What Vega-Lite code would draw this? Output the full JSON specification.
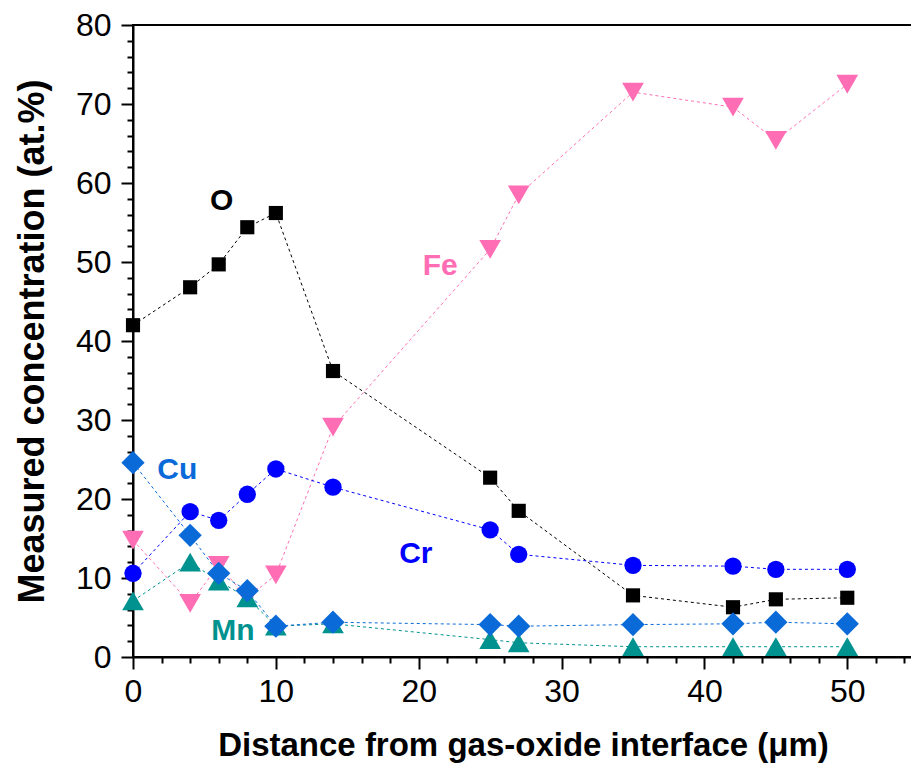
{
  "$schema": "https://vega.github.io/schema/vega-lite/v6.json",
  "autosize": "none",
  "padding": {"left": 133, "top": 25, "right": 0, "bottom": 108},
  "width": 780,
  "height": 632,
  "config": {
    "view": {"stroke": "black", "strokeWidth": 2},
    "font": "Liberation Sans"
  },
  "datasets": {
    "pts": [
      {"el": "O", "x": 0, "y": 42.0}, {"el": "O", "x": 4, "y": 46.8}, {"el": "O", "x": 6, "y": 49.7}, {"el": "O", "x": 8, "y": 54.4}, {"el": "O", "x": 10, "y": 56.2}, {"el": "O", "x": 14, "y": 36.2}, {"el": "O", "x": 25, "y": 22.7}, {"el": "O", "x": 27, "y": 18.5}, {"el": "O", "x": 35, "y": 7.8}, {"el": "O", "x": 42, "y": 6.3}, {"el": "O", "x": 45, "y": 7.3}, {"el": "O", "x": 50, "y": 7.5},
      {"el": "Fe", "x": 0, "y": 14.8}, {"el": "Fe", "x": 4, "y": 6.8}, {"el": "Fe", "x": 6, "y": 11.6}, {"el": "Fe", "x": 8, "y": 7.5}, {"el": "Fe", "x": 10, "y": 10.4}, {"el": "Fe", "x": 14, "y": 29.1}, {"el": "Fe", "x": 25, "y": 51.6}, {"el": "Fe", "x": 27, "y": 58.5}, {"el": "Fe", "x": 35, "y": 71.5}, {"el": "Fe", "x": 42, "y": 69.6}, {"el": "Fe", "x": 45, "y": 65.4}, {"el": "Fe", "x": 50, "y": 72.5},
      {"el": "Cr", "x": 0, "y": 10.6}, {"el": "Cr", "x": 4, "y": 18.4}, {"el": "Cr", "x": 6, "y": 17.3}, {"el": "Cr", "x": 8, "y": 20.6}, {"el": "Cr", "x": 10, "y": 23.8}, {"el": "Cr", "x": 14, "y": 21.5}, {"el": "Cr", "x": 25, "y": 16.1}, {"el": "Cr", "x": 27, "y": 13.0}, {"el": "Cr", "x": 35, "y": 11.6}, {"el": "Cr", "x": 42, "y": 11.5}, {"el": "Cr", "x": 45, "y": 11.1}, {"el": "Cr", "x": 50, "y": 11.1},
      {"el": "Mn", "x": 0, "y": 7.1}, {"el": "Mn", "x": 4, "y": 12.0}, {"el": "Mn", "x": 6, "y": 9.6}, {"el": "Mn", "x": 8, "y": 7.5}, {"el": "Mn", "x": 10, "y": 3.9}, {"el": "Mn", "x": 14, "y": 4.2}, {"el": "Mn", "x": 25, "y": 2.2}, {"el": "Mn", "x": 27, "y": 1.8}, {"el": "Mn", "x": 35, "y": 1.3}, {"el": "Mn", "x": 42, "y": 1.3}, {"el": "Mn", "x": 45, "y": 1.3}, {"el": "Mn", "x": 50, "y": 1.3},
      {"el": "Cu", "x": 0, "y": 24.6}, {"el": "Cu", "x": 4, "y": 15.4}, {"el": "Cu", "x": 6, "y": 10.6}, {"el": "Cu", "x": 8, "y": 8.4}, {"el": "Cu", "x": 10, "y": 3.9}, {"el": "Cu", "x": 14, "y": 4.4}, {"el": "Cu", "x": 25, "y": 4.1}, {"el": "Cu", "x": 27, "y": 3.9}, {"el": "Cu", "x": 35, "y": 4.1}, {"el": "Cu", "x": 42, "y": 4.2}, {"el": "Cu", "x": 45, "y": 4.4}, {"el": "Cu", "x": 50, "y": 4.2}
    ],
    "labels": [
      {"el": "O", "x": 6.2, "y": 58.0},
      {"el": "Fe", "x": 21.5, "y": 49.8},
      {"el": "Cr", "x": 19.8, "y": 13.3},
      {"el": "Cu", "x": 3.1, "y": 23.9},
      {"el": "Mn", "x": 7.0, "y": 3.6}
    ]
  },
  "resolve": {"axis": {"x": "independent", "y": "independent"}},
  "layer": [
    {
      "data": {"name": "pts"},
      "mark": {"type": "line", "strokeDash": [3, 3], "strokeWidth": 1},
      "encoding": {
        "x": {
          "field": "x", "type": "quantitative",
          "scale": {"domain": [0, 54.6], "nice": false, "zero": false},
          "axis": {
            "orient": "bottom",
            "title": "Distance from gas-oxide interface (μm)",
            "values": [0, 10, 20, 30, 40, 50],
            "tickSize": 12,
            "tickWidth": 2, "tickColor": "black",
            "domainWidth": 2, "domainColor": "black",
            "grid": false,
            "labelFontSize": 32, "labelColor": "black", "labelPadding": 7, "labelFlush": false, "labelOverlap": false,
            "titleFontSize": 33, "titleFontWeight": "bold", "titleColor": "black", "titlePadding": 22
          }
        },
        "y": {
          "field": "y", "type": "quantitative",
          "scale": {"domain": [0, 80], "nice": false},
          "axis": {
            "orient": "left",
            "title": "Measured concentration (at.%)",
            "values": [0, 10, 20, 30, 40, 50, 60, 70, 80],
            "tickSize": 12,
            "tickWidth": 2, "tickColor": "black",
            "domainWidth": 2, "domainColor": "black",
            "grid": false,
            "labelFontSize": 32, "labelColor": "black", "labelPadding": 10, "labelFlush": false, "labelOverlap": false,
            "titleFontSize": 36, "titleFontWeight": "bold", "titleColor": "black", "titlePadding": 24
          }
        },
        "color": {
          "field": "el", "type": "nominal", "legend": null,
          "scale": {"domain": ["O", "Fe", "Cr", "Mn", "Cu"], "range": ["#000000", "#ff6eb4", "#0000ff", "#00928f", "#0a6ad8"]}
        },
        "detail": {"field": "el"}
      }
    },
    {
      "data": {"name": "pts"},
      "mark": {"type": "point", "filled": true, "opacity": 1},
      "encoding": {
        "x": {
          "field": "x", "type": "quantitative",
          "axis": {
            "orient": "bottom", "title": null, "labels": false, "domain": false, "grid": false,
            "values": [2, 4, 6, 8, 12, 14, 16, 18, 22, 24, 26, 28, 32, 34, 36, 38, 42, 44, 46, 48, 52, 54],
            "tickSize": 6, "tickWidth": 2, "tickColor": "black"
          }
        },
        "y": {
          "field": "y", "type": "quantitative",
          "axis": {
            "orient": "left", "title": null, "labels": false, "domain": false, "grid": false,
            "values": [2, 4, 6, 8, 12, 14, 16, 18, 22, 24, 26, 28, 32, 34, 36, 38, 42, 44, 46, 48, 52, 54, 56, 58, 62, 64, 66, 68, 72, 74, 76, 78],
            "tickSize": 6, "tickWidth": 2, "tickColor": "black"
          }
        },
        "color": {"field": "el", "type": "nominal", "legend": null},
        "shape": {
          "field": "el", "type": "nominal", "legend": null,
          "scale": {"domain": ["O", "Fe", "Cr", "Mn", "Cu"], "range": ["square", "triangle-down", "circle", "triangle-up", "diamond"]}
        },
        "size": {
          "field": "el", "type": "ordinal", "legend": null,
          "scale": {"type": "ordinal", "domain": ["O", "Fe", "Cr", "Mn", "Cu"], "range": [200, 470, 300, 470, 540]}
        }
      }
    },
    {
      "data": {"name": "labels"},
      "mark": {"type": "text", "fontSize": 30, "fontWeight": "bold", "align": "center", "baseline": "middle", "dy": 2},
      "encoding": {
        "x": {"field": "x", "type": "quantitative", "axis": null},
        "y": {"field": "y", "type": "quantitative", "axis": null},
        "text": {"field": "el"},
        "color": {"field": "el", "type": "nominal", "legend": null}
      }
    }
  ]
}
